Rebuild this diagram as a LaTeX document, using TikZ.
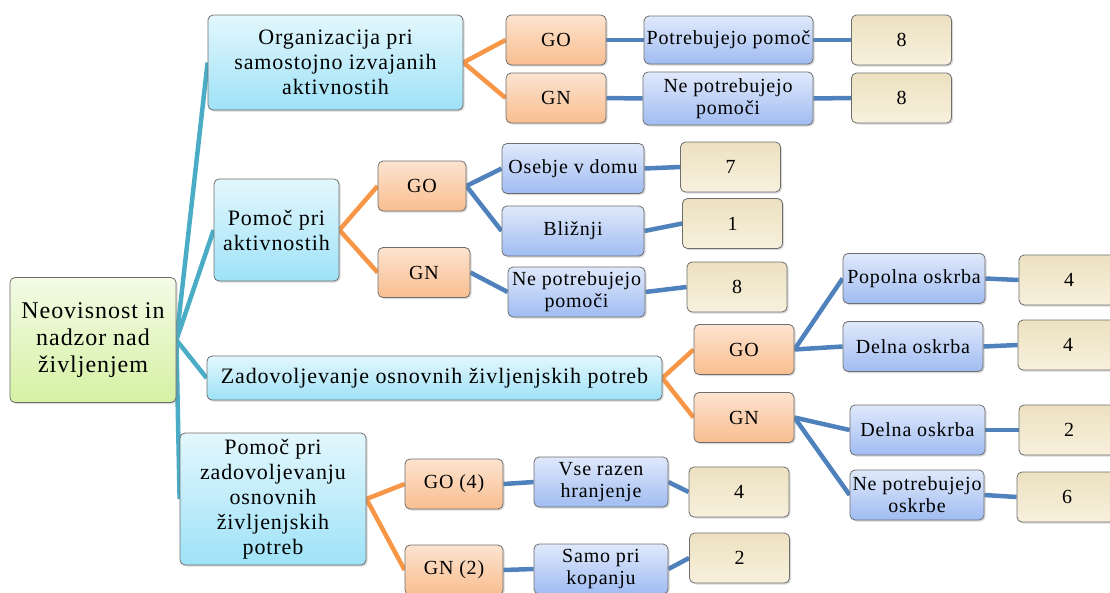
\documentclass[tikz,border=0pt]{standalone}
\usepackage{fontspec}
\setmainfont{Liberation Serif}[LetterSpace=4]
\usepackage{tikz}
\usetikzlibrary{
    positioning,                      % right=of, below=of, etc.
    shadows,                          % sombra de las cajas
    backgrounds                       % lineas detras de las cajas
}
\definecolor{borde}{RGB}{110,110,110}
\definecolor{verde_top}{RGB}{243,251,230}
\definecolor{verde_bot}{RGB}{213,241,163}
\definecolor{cian_top}{RGB}{227,247,253}
\definecolor{cian_bot}{RGB}{158,226,247}
\definecolor{naranja_top}{RGB}{252,227,207}
\definecolor{naranja_bot}{RGB}{249,190,144}
\definecolor{azul_top}{RGB}{224,233,251}
\definecolor{azul_bot}{RGB}{160,188,242}
\definecolor{beige_top}{RGB}{236,225,192}
\definecolor{beige_bot}{RGB}{248,240,221}
\definecolor{linea_cian}{RGB}{75,172,198}
\definecolor{linea_naranja}{RGB}{247,150,70}
\definecolor{linea_azul}{RGB}{79,129,189}
\tikzset{
    caja/.style={
        rectangle, draw=borde, line width=0.8pt, rounded corners=5pt,
        align=center, inner sep=2pt,
        drop shadow={shadow xshift=1.5pt, shadow yshift=-1.5pt, opacity=0.3}
    },
    raiz/.style={
        caja, top color=verde_top, bottom color=verde_bot,
        font=\fontsize{24}{27}\selectfont
    },
    tema/.style={
        caja, top color=cian_top, bottom color=cian_bot,
        font=\fontsize{22}{25}\selectfont
    },
    grupo/.style={
        caja, top color=naranja_top, bottom color=naranja_bot,
        minimum width=100pt, minimum height=50pt,
        font=\fontsize{20}{22}\selectfont
    },
    respuesta/.style={
        caja, top color=azul_top, bottom color=azul_bot,
        minimum height=50pt, font=\fontsize{20}{22}\selectfont
    },
    numero/.style={
        caja, top color=beige_top, bottom color=beige_bot,
        minimum width=100pt, minimum height=50pt,
        font=\fontsize{20}{22}\selectfont
    },
    rama/.style={line width=4.5pt, draw=linea_cian},
    rama_g/.style={line width=4.5pt, draw=linea_naranja},
    rama_r/.style={line width=4.5pt, draw=linea_azul}
}

\begin{document}
\begin{tikzpicture}[x=1pt, y=-1pt]

    \useasboundingbox (0,0) rectangle (1110,592);

    % Raiz
    \node[raiz, minimum width=166pt, minimum height=125pt] (neo) at (93,340)
        {Neovisnost in\\nadzor nad\\življenjem};

    % Temas
    \node[tema, minimum width=255pt, minimum height=95pt] (org) at (335.5,62.5)
        {Organizacija pri\\samostojno izvajanih\\aktivnostih};
    \node[tema, minimum width=125pt, minimum height=102pt] (pom) at (276.5,230)
        {Pomoč pri\\aktivnostih};
    \node[tema, minimum width=455pt, minimum height=44pt] (zad) at (434.5,378)
        {Zadovoljevanje osnovnih življenjskih potreb};
    \node[tema, minimum width=186pt, minimum height=132pt] (pzp) at (273,499)
        {Pomoč pri\\zadovoljevanju\\osnovnih\\življenjskih\\potreb};

    % Grupos GO / GN
    \node[grupo] (org_go) at (556,40) {GO};
    \node[grupo] (org_gn) at (556,98) {GN};
    \node[grupo, minimum width=88pt] (pom_go) at (422,186) {GO};
    \node[grupo, minimum width=92pt] (pom_gn) at (424,272.5) {GN};
    \node[grupo] (zad_go) at (744,349.5) {GO};
    \node[grupo] (zad_gn) at (744,417.5) {GN};
    \node[grupo, minimum width=98pt] (pzp_go) at (454,484) {GO (4)};
    \node[grupo, minimum width=98pt] (pzp_gn) at (454,570) {GN (2)};

    % Respuestas
    \node[respuesta, minimum width=169pt, minimum height=48pt] (org_go_r) at (728.5,40)
        {Potrebujejo pomoč};
    \node[respuesta, minimum width=170pt, minimum height=53pt] (org_gn_r) at (728,98.5)
        {Ne potrebujejo\\pomoči};
    \node[respuesta, minimum width=142pt] (pom_go_r1) at (573,168.5) {Osebje v domu};
    \node[respuesta, minimum width=142pt] (pom_go_r2) at (573,231) {Bližnji};
    \node[respuesta, minimum width=137pt] (pom_gn_r) at (576.5,292)
        {Ne potrebujejo\\pomoči};
    \node[respuesta, minimum width=142pt] (zad_go_r1) at (914,278.5) {Popolna oskrba};
    \node[respuesta, minimum width=140pt] (zad_go_r2) at (913,346.5) {Delna oskrba};
    \node[respuesta, minimum width=135pt] (zad_gn_r1) at (917.5,430) {Delna oskrba};
    \node[respuesta, minimum width=134pt] (zad_gn_r2) at (917,495)
        {Ne potrebujejo\\oskrbe};
    \node[respuesta, minimum width=134pt] (pzp_go_r) at (601,482)
        {Vse razen\\hranjenje};
    \node[respuesta, minimum width=134pt] (pzp_gn_r) at (601,569)
        {Samo pri\\kopanju};

    % Numeros
    \node[numero] (org_go_n) at (901.5,40) {8};
    \node[numero] (org_gn_n) at (901.5,98) {8};
    \node[numero] (pom_go_n1) at (730.5,167) {7};
    \node[numero] (pom_go_n2) at (732.5,223.5) {1};
    \node[numero] (pom_gn_n) at (737,287) {8};
    \node[numero] (zad_go_n1) at (1069,280) {4};
    \node[numero] (zad_go_n2) at (1068,345) {4};
    \node[numero] (zad_gn_n1) at (1069,430) {2};
    \node[numero] (zad_gn_n2) at (1067,497) {6};
    \node[numero] (pzp_go_n) at (739,492) {4};
    \node[numero] (pzp_gn_n) at (739.5,558) {2};

    % Lineas
    \begin{scope}[on background layer]
        \foreach \t in {org, pom, zad, pzp}
            \draw[rama] (neo.east) -- (\t.west);
        \foreach \t in {org, pom, zad, pzp} {
            \draw[rama_g] (\t.east) -- (\t_go.west);
            \draw[rama_g] (\t.east) -- (\t_gn.west);
        }
        \draw[rama_r] (org_go.east) -- (org_go_r.west);
        \draw[rama_r] (org_gn.east) -- (org_gn_r.west);
        \draw[rama_r] (pom_go.east) -- (pom_go_r1.west);
        \draw[rama_r] (pom_go.east) -- (pom_go_r2.west);
        \draw[rama_r] (pom_gn.east) -- (pom_gn_r.west);
        \draw[rama_r] (zad_go.east) -- (zad_go_r1.west);
        \draw[rama_r] (zad_go.east) -- (zad_go_r2.west);
        \draw[rama_r] (zad_gn.east) -- (zad_gn_r1.west);
        \draw[rama_r] (zad_gn.east) -- (zad_gn_r2.west);
        \draw[rama_r] (pzp_go.east) -- (pzp_go_r.west);
        \draw[rama_r] (pzp_gn.east) -- (pzp_gn_r.west);
        \foreach \r/\n in {org_go_r/org_go_n, org_gn_r/org_gn_n,
                pom_go_r1/pom_go_n1, pom_go_r2/pom_go_n2, pom_gn_r/pom_gn_n,
                zad_go_r1/zad_go_n1, zad_go_r2/zad_go_n2,
                zad_gn_r1/zad_gn_n1, zad_gn_r2/zad_gn_n2,
                pzp_go_r/pzp_go_n, pzp_gn_r/pzp_gn_n}
            \draw[rama_r] (\r.east) -- (\n.west);
    \end{scope}

\end{tikzpicture}
\end{document}
